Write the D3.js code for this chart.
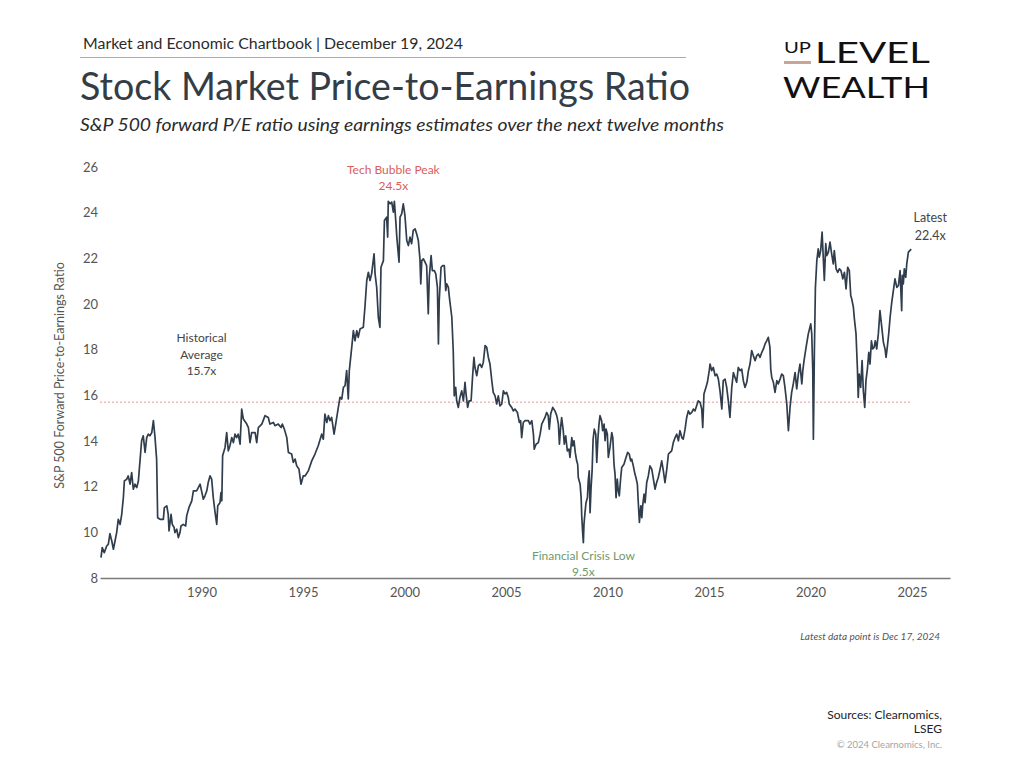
<!DOCTYPE html>
<html>
<head>
<meta charset="utf-8">
<script src="https://cdn.jsdelivr.net/npm/d3@7"></script>
<style>
  html, body { margin: 0; padding: 0; background: #fff; }
  svg { display: block; }
  text { font-family: Lato, "Open Sans", sans-serif; }
</style>
</head>
<body>
<svg id="chart" width="1024" height="768"></svg>
<script>
// ---------------- DATA ----------------
const years = [
  1985.05,1985.11,1985.21,1985.33,1985.41,1985.49,1985.58,1985.66,1985.74,1985.82,1985.90,1985.99,
  1986.07,1986.15,1986.20,1986.32,1986.39,1986.48,1986.56,1986.64,1986.72,1986.81,1986.89,1986.97,
  1987.05,1987.13,1987.22,1987.30,1987.38,1987.46,1987.55,1987.63,1987.71,1987.79,1987.84,1987.96,
  1988.12,1988.17,1988.29,1988.36,1988.40,1988.50,1988.56,1988.65,1988.69,1988.78,1988.86,1988.94,1988.99,
  1989.10,1989.22,1989.27,1989.38,1989.52,1989.60,1989.76,1989.93,
  1990.09,1990.17,1990.26,1990.33,1990.42,1990.50,1990.58,1990.67,1990.75,1990.80,1990.91,1990.96,
  1991.00,1991.04,1991.16,1991.24,1991.32,1991.40,1991.49,1991.57,1991.65,1991.73,1991.81,1991.90,1991.98,
  1992.06,1992.23,1992.31,1992.39,1992.47,1992.64,1992.72,1992.80,1992.97,
  1993.13,1993.29,1993.37,1993.54,1993.62,1993.78,1993.92,1993.98,
  1994.08,1994.20,1994.28,1994.44,1994.52,1994.61,1994.69,1994.80,1994.90,
  1995.01,1995.10,1995.26,1995.43,1995.59,1995.75,1995.92,
  1996.00,1996.08,1996.17,1996.25,1996.33,1996.41,1996.53,1996.61,1996.74,1996.82,1996.91,1996.99,
  1997.07,1997.15,1997.23,1997.28,1997.40,1997.48,1997.56,1997.65,1997.72,1997.81,1997.97,
  1998.05,1998.14,1998.22,1998.30,1998.38,1998.50,1998.55,1998.63,1998.71,1998.79,1998.84,1998.96,
  1999.01,1999.12,1999.17,1999.20,1999.29,1999.37,1999.45,1999.50,1999.58,1999.62,1999.73,1999.78,1999.86,1999.94,
  2000.02,2000.11,2000.19,2000.27,2000.35,2000.43,2000.52,2000.60,2000.68,2000.76,2000.80,2000.85,2000.93,
  2001.01,2001.09,2001.17,2001.22,2001.31,2001.37,2001.47,2001.54,2001.62,2001.67,2001.71,2001.80,2001.88,2001.96,
  2002.03,2002.08,2002.16,2002.21,2002.33,2002.40,2002.45,2002.52,2002.57,2002.65,2002.73,2002.82,2002.90,2002.98,
  2003.03,2003.11,2003.18,2003.28,2003.36,2003.42,2003.47,2003.56,2003.64,2003.72,2003.80,2003.88,2003.97,
  2004.05,2004.13,2004.21,2004.30,2004.37,2004.46,2004.54,2004.62,2004.70,2004.79,2004.87,2004.95,
  2005.03,2005.11,2005.16,2005.28,2005.36,2005.44,2005.56,2005.66,2005.72,2005.77,2005.85,2005.94,
  2006.10,2006.18,2006.27,2006.35,2006.39,2006.48,2006.59,2006.68,2006.76,2006.92,
  2007.00,2007.08,2007.13,2007.20,2007.30,2007.41,2007.50,2007.58,2007.63,2007.69,2007.74,2007.82,2007.87,2007.94,
  2008.02,2008.10,2008.15,2008.24,2008.29,2008.35,2008.41,2008.48,2008.53,2008.56,2008.65,2008.70,2008.73,2008.78,2008.81,2008.84,2008.89,2008.94,
  2009.01,2009.05,2009.10,2009.14,2009.19,2009.24,2009.29,2009.35,2009.42,2009.47,2009.53,2009.58,2009.63,2009.71,2009.76,2009.83,2009.88,2009.93,2009.99,
  2010.04,2010.12,2010.21,2010.26,2010.32,2010.37,2010.42,2010.48,2010.53,2010.58,2010.65,2010.70,2010.81,2010.91,2010.99,
  2011.07,2011.14,2011.19,2011.27,2011.35,2011.40,2011.47,2011.52,2011.57,2011.64,2011.69,2011.73,2011.80,2011.85,2011.93,
  2012.01,2012.09,2012.18,2012.26,2012.34,2012.42,2012.50,2012.59,2012.67,2012.75,2012.83,2012.92,
  2013.00,2013.08,2013.16,2013.24,2013.33,2013.41,2013.49,2013.57,2013.66,2013.73,2013.82,2013.90,2013.98,
  2014.06,2014.15,2014.23,2014.31,2014.39,2014.47,2014.56,2014.64,2014.69,2014.75,2014.85,2014.92,
  2015.01,2015.05,2015.13,2015.21,2015.30,2015.38,2015.46,2015.54,2015.63,2015.70,2015.79,2015.87,2015.95,
  2016.03,2016.12,2016.20,2016.28,2016.36,2016.44,2016.53,2016.61,2016.69,2016.77,2016.86,2016.94,
  2017.02,2017.10,2017.18,2017.27,2017.35,2017.43,2017.51,2017.60,2017.68,2017.76,2017.84,2017.92,
  2018.00,2018.04,2018.09,2018.17,2018.25,2018.34,2018.41,2018.50,2018.58,2018.66,2018.74,2018.83,2018.91,2018.99,
  2019.07,2019.15,2019.24,2019.32,2019.40,2019.48,2019.57,2019.62,2019.68,2019.78,2019.89,
  2020.01,2020.06,2020.11,2020.14,2020.19,2020.24,2020.31,2020.38,2020.43,2020.50,2020.57,2020.63,2020.68,2020.75,2020.80,2020.88,2020.96,
  2021.04,2021.12,2021.17,2021.26,2021.34,2021.42,2021.50,2021.59,2021.67,2021.75,2021.83,2021.91,2021.98,
  2022.03,2022.11,2022.16,2022.24,2022.31,2022.35,2022.40,2022.47,2022.54,2022.60,2022.67,2022.73,2022.80,2022.87,2022.93,
  2023.00,2023.06,2023.13,2023.19,2023.26,2023.34,2023.42,2023.51,2023.59,2023.67,2023.72,2023.78,2023.85,2023.92,
  2024.00,2024.08,2024.16,2024.25,2024.33,2024.41,2024.49,2024.52,2024.57,2024.62,2024.69,2024.74,2024.82,2024.96
];

const peRatios = [
  8.89,9.33,9.11,9.40,9.48,9.94,9.62,9.26,9.62,9.99,10.57,10.35,
  10.79,11.52,12.25,12.33,12.47,12.11,12.62,11.89,12.11,11.96,12.25,13.13,
  14.01,14.23,13.50,14.15,14.30,14.23,14.37,14.89,14.15,13.20,10.64,10.57,
  10.57,11.08,11.16,10.79,10.06,10.79,10.35,10.21,9.99,10.14,9.77,9.99,10.28,
  10.35,10.28,10.72,11.08,11.38,11.82,11.82,12.11,
  11.45,11.60,11.82,12.18,12.47,12.33,11.52,10.86,10.35,11.16,11.30,11.74,
  11.38,13.35,13.72,14.37,13.57,13.79,14.15,13.93,14.30,14.15,14.30,13.86,15.40,
  14.96,14.74,14.59,13.93,14.37,14.37,13.93,14.59,14.74,
  15.11,15.03,14.74,14.81,14.67,14.74,14.59,14.74,
  14.52,14.15,13.50,13.43,13.06,13.21,12.91,12.77,12.11,
  12.47,12.47,12.69,13.13,13.43,13.79,14.30,
  14.08,15.18,14.81,15.11,14.89,15.03,14.30,14.74,15.47,15.91,15.84,16.35,
  16.42,17.08,15.84,17.08,18.10,18.83,18.39,18.83,18.54,18.91,18.98,
  19.86,21.03,21.39,21.03,21.32,22.20,21.32,20.73,19.42,18.98,21.61,21.90,
  23.66,23.80,22.93,24.50,24.39,24.46,24.02,24.50,23.51,22.93,21.83,23.80,23.95,24.39,
  23.88,22.78,22.56,22.93,22.64,23.22,23.29,23.07,22.78,21.98,20.88,21.90,21.98,
  21.83,21.68,19.57,21.17,22.12,21.46,21.46,21.32,20.73,18.25,20.15,21.61,21.68,21.68,
  20.59,20.88,20.73,20.29,19.42,17.96,15.98,16.35,15.76,15.47,15.91,16.20,15.76,16.57,
  16.06,15.47,15.76,15.76,16.93,17.66,17.22,16.86,17.30,17.37,17.22,17.44,18.18,
  18.10,17.66,17.37,16.64,16.13,15.98,15.62,15.98,15.54,15.62,16.20,16.06,
  16.13,15.91,15.62,15.47,15.32,15.40,15.25,14.81,14.89,14.15,14.81,14.89,
  14.89,14.74,14.89,14.30,13.64,13.86,13.93,14.30,14.74,15.03,
  15.25,15.11,14.52,15.18,15.47,15.32,15.11,14.74,13.86,14.59,15.03,14.45,13.86,14.23,
  13.57,13.64,13.28,14.15,13.79,14.01,13.50,13.13,12.98,12.40,12.11,11.52,10.72,9.92,9.55,10.35,10.86,11.30,
  11.52,12.25,12.69,10.86,11.96,12.69,14.08,14.52,14.30,13.06,14.15,14.74,15.11,14.89,14.45,14.74,14.01,14.52,14.30,
  13.28,13.72,14.37,14.15,12.98,12.55,11.52,12.33,11.82,11.60,12.40,12.84,12.98,13.28,13.50,
  13.43,13.13,13.21,12.91,12.55,12.40,12.11,11.23,10.43,11.16,10.64,11.16,11.67,11.30,12.18,
  12.47,12.91,12.77,12.33,11.89,12.18,12.40,12.77,13.13,12.69,12.18,12.77,
  13.43,13.50,13.57,13.93,14.15,14.30,14.01,14.45,14.15,14.08,14.52,15.03,15.32,
  15.18,15.25,15.40,15.32,15.54,15.76,15.69,15.40,14.59,16.06,16.35,16.57,
  17.08,17.37,17.08,17.22,16.86,16.93,16.71,16.20,15.40,16.64,16.71,16.35,15.76,
  15.03,16.35,17.00,16.78,16.57,17.22,17.08,17.15,16.64,16.35,16.57,17.08,
  17.37,17.96,17.74,17.52,17.74,17.81,17.66,17.88,18.03,18.25,18.39,18.54,
  18.10,17.15,16.78,16.57,16.13,16.64,16.50,16.71,16.93,16.86,16.35,15.62,14.45,15.47,
  16.13,16.50,17.00,16.28,16.93,17.37,16.50,17.08,17.52,18.10,18.69,
  19.13,18.69,17.08,14.08,17.96,20.73,21.90,22.42,22.05,22.34,23.15,21.98,21.03,22.64,22.12,22.27,22.71,
  22.20,21.76,22.34,21.54,21.39,21.54,21.46,21.10,21.39,20.66,21.61,21.46,20.37,
  20.22,19.86,19.35,18.69,17.15,15.91,16.93,16.35,17.52,16.20,15.47,16.64,17.15,17.88,17.37,
  18.39,18.03,18.10,18.39,18.03,18.69,19.71,18.98,18.32,18.03,17.66,18.10,18.69,19.42,
  20.07,20.59,21.10,20.73,20.81,21.46,19.71,21.25,20.88,21.54,21.17,21.76,22.27,22.40
];

const xTickYears = [1990, 1995, 2000, 2005, 2010, 2015, 2020, 2025];
const yTickValues = [8, 10, 12, 14, 16, 18, 20, 22, 24, 26];
const historicalAverage = 15.7;
const bubblePeak = { year: 1999.45, value: 24.5 };
const crisisLow = { year: 2008.81, value: 9.5 };
const latestPoint = { year: 2024.96, value: 22.4 };

// ---------------- CHART ----------------
const svg = d3.select("#chart");
svg.append("rect").attr("width", 1024).attr("height", 768).attr("fill", "#fff");

const x = d3.scaleLinear().domain([1985, 2026.87]).range([100, 950]);
const y = d3.scaleLinear().domain([8, 26]).range([578, 167]);

// Header
svg.append("text").attr("x", 83).attr("y", 49)
  .attr("font-size", 15.5).attr("fill", "#2b2b2b")
  .attr("textLength", 380).attr("lengthAdjust", "spacingAndGlyphs")
  .text("Market and Economic Chartbook | December 19, 2024");
svg.append("line").attr("x1", 80).attr("x2", 686).attr("y1", 57.5).attr("y2", 57.5)
  .attr("stroke", "#a8adb2").attr("stroke-width", 1);
svg.append("text").attr("x", 80).attr("y", 100)
  .attr("font-size", 38).attr("fill", "#343d46")
  .attr("textLength", 610).attr("lengthAdjust", "spacingAndGlyphs")
  .text("Stock Market Price-to-Earnings Ratio");
svg.append("text").attr("x", 80).attr("y", 131)
  .attr("font-size", 18).attr("font-style", "italic").attr("fill", "#2b2b2b")
  .attr("textLength", 644).attr("lengthAdjust", "spacingAndGlyphs")
  .text("S&P 500 forward P/E ratio using earnings estimates over the next twelve months");

// Logo
const logo = svg.append("g").attr("font-family", "Lato, 'DejaVu Sans', sans-serif").attr("fill", "#111");
logo.append("text").attr("x", 784).attr("y", 53).attr("font-size", 16)
  .attr("textLength", 27).attr("lengthAdjust", "spacingAndGlyphs").text("UP");
logo.append("rect").attr("x", 784).attr("y", 61).attr("width", 27).attr("height", 3).attr("fill", "#c9a596");
logo.append("text").attr("x", 815).attr("y", 63).attr("font-size", 29)
  .attr("textLength", 115).attr("lengthAdjust", "spacingAndGlyphs").text("LEVEL");
logo.append("text").attr("x", 783).attr("y", 98).attr("font-size", 29)
  .attr("textLength", 147).attr("lengthAdjust", "spacingAndGlyphs").text("WEALTH");

// Axes
const xAxis = d3.axisBottom(x).tickValues(xTickYears).tickFormat(d3.format("d")).tickSize(0).tickPadding(10);
const gx = svg.append("g").attr("transform", `translate(0,${y(8)})`).call(xAxis);
gx.select(".domain").attr("stroke", "#7a7a7a").attr("stroke-width", 1.5);
gx.selectAll("text").attr("font-size", 13).attr("fill", "#555").attr("font-family", "Lato, sans-serif");

const yAxis = d3.axisLeft(y).tickValues(yTickValues).tickFormat(d3.format("d")).tickSize(0).tickPadding(2);
const gy = svg.append("g").attr("transform", `translate(${x(1985)},0)`).call(yAxis);
gy.select(".domain").remove();
gy.selectAll("text").attr("font-size", 13).attr("fill", "#555").attr("font-family", "Lato, sans-serif");

svg.append("text")
  .attr("transform", `translate(64,${(y(8) + y(26)) / 2 + 3}) rotate(-90)`)
  .attr("text-anchor", "middle").attr("font-size", 12.5).attr("fill", "#555")
  .text("S&P 500 Forward Price-to-Earnings Ratio");

// Historical average line
svg.append("line")
  .attr("x1", x(1985)).attr("x2", x(2024.96))
  .attr("y1", y(historicalAverage)).attr("y2", y(historicalAverage))
  .attr("stroke", "#e29a9a").attr("stroke-width", 1).attr("stroke-dasharray", "2,2");

// Data line
const series = years.map((yr, i) => ({ year: yr, pe: peRatios[i] }));
const line = d3.line().x(d => x(d.year)).y(d => y(d.pe));
svg.append("path").datum(series)
  .attr("d", line).attr("fill", "none")
  .attr("stroke", "#2f3d4c").attr("stroke-width", 1.7).attr("stroke-linejoin", "round");

// Annotations
function label(lines, cx, topY, color, size, gap) {
  lines.forEach((t, i) => {
    svg.append("text").attr("x", cx).attr("y", topY + i * gap)
      .attr("text-anchor", "middle").attr("font-size", size).attr("fill", color).text(t);
  });
}
label(["Tech Bubble Peak", bubblePeak.value.toFixed(1) + "x"], x(bubblePeak.year), 174, "#d9605c", 12, 16);
label(["Historical", "Average", historicalAverage.toFixed(1) + "x"], x(1990), 342, "#444", 12, 16.5);
label(["Financial Crisis Low", crisisLow.value.toFixed(1) + "x"], x(crisisLow.year), 560, "#6f9a6c", 12, 16);
label(["Latest", latestPoint.value.toFixed(1) + "x"], x(latestPoint.year) + 19, 222, "#444", 12.5, 18);

// Footer
svg.append("text").attr("x", 940).attr("y", 640).attr("text-anchor", "end")
  .attr("font-size", 10).attr("font-style", "italic").attr("fill", "#555")
  .text("Latest data point is Dec 17, 2024");
svg.append("text").attr("x", 942).attr("y", 719).attr("text-anchor", "end")
  .attr("font-size", 12).attr("fill", "#222").text("Sources: Clearnomics,");
svg.append("text").attr("x", 942).attr("y", 733).attr("text-anchor", "end")
  .attr("font-size", 12).attr("fill", "#222").text("LSEG");
svg.append("text").attr("x", 942).attr("y", 748).attr("text-anchor", "end")
  .attr("font-size", 9.5).attr("fill", "#a5a5a5").text("© 2024 Clearnomics, Inc.");
</script>
</body>
</html>
